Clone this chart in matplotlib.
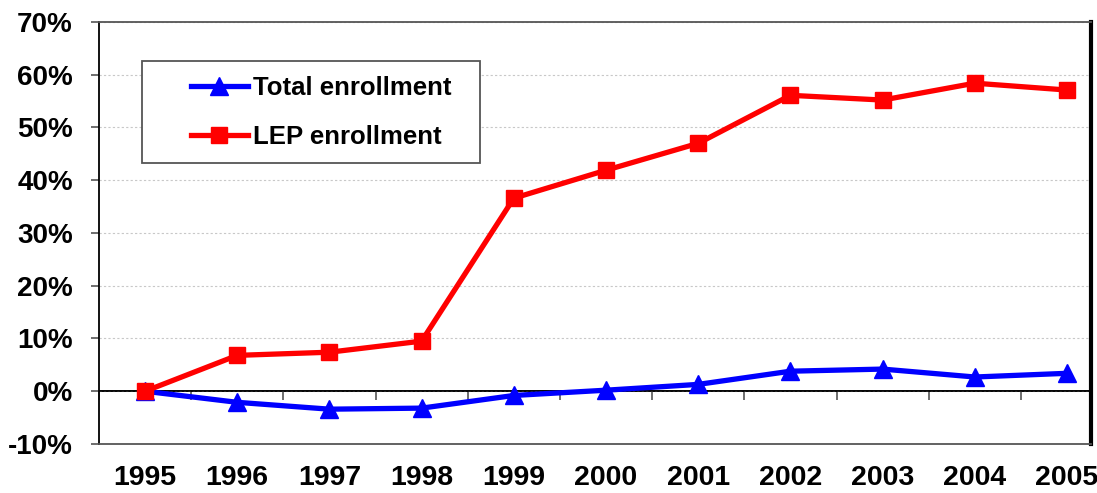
import numpy as np
import matplotlib.pyplot as plt
from matplotlib.ticker import FuncFormatter
from matplotlib.patches import Rectangle

# Données :
annees = ["1995", "1996", "1997", "1998", "1999", "2000",
          "2001", "2002", "2003", "2004", "2005"]
total = [0.0, -2.1, -3.4, -3.2, -0.8, 0.2, 1.3, 3.8, 4.2, 2.7, 3.4]
lep = [0.0, 6.8, 7.4, 9.5, 36.6, 41.9, 47.0, 56.1, 55.2, 58.4, 57.1]

plt.rcParams['font.family'] = ['Liberation Sans', 'DejaVu Sans']
plt.rcParams['font.weight'] = 'bold'

fig = plt.figure(figsize=(10.97, 4.93), dpi=100)
ax = fig.add_axes([0.0902, 0.0994, 0.9043, 0.856])

x = np.arange(len(annees))
ax.plot(x, total, color='#0000ff', lw=3.8, marker='^', ms=13,
        label='Total enrollment', zorder=4)
ax.plot(x, lep, color='#ff0000', lw=3.8, marker='s', ms=12,
        label='LEP enrollment', zorder=5)

ax.set_ylim(-10, 70)
ax.set_yticks(np.arange(-10, 71, 10))
ax.yaxis.set_major_formatter(FuncFormatter(lambda v, p: f"{v:.0f}%"))
ax.set_xlim(-0.5, 10.26)
ax.set_xticks(x)
ax.set_xticklabels(annees)

ax.grid(axis='y', color='#c8c8c8', linestyle=(0, (2, 2)), lw=0.8)
ax.set_axisbelow(True)
ax.axhline(0, color='black', lw=1.2, zorder=3)

ax.tick_params(axis='y', length=5.8, width=1.2, color='#555555', pad=13, labelsize=20)
ax.tick_params(axis='x', length=0, pad=15, labelsize=20.5)

ax.spines['left'].set_color('black')
ax.spines['left'].set_linewidth(1.3)
ax.spines['top'].set_color('#555555')
ax.spines['top'].set_linewidth(1.3)
ax.spines['bottom'].set_color('#555555')
ax.spines['bottom'].set_linewidth(1.3)
ax.spines['right'].set_color('black')
ax.spines['right'].set_linewidth(3)

# ligne du zéro avec graduations entre les années
zero = ax.secondary_xaxis(10 / 80)
zero.set_xticks(np.arange(-0.5, 10.5, 1))
zero.set_xticklabels([])
zero.tick_params(axis='x', direction='out', length=6.5, width=1.2, color='#555555')
zero.spines['bottom'].set_color('black')
zero.spines['bottom'].set_linewidth(1.2)

# cadre de la légende
ax.add_patch(Rectangle((0.0433, 0.666), 0.3407, 0.242, transform=ax.transAxes,
                       facecolor='white', edgecolor='#555555', lw=1.3, zorder=6))
leg = ax.legend(loc='upper left', bbox_to_anchor=(0.093, 0.871), fontsize=18.5,
                frameon=False, handlelength=2.2, labelspacing=0.95,
                handletextpad=0.2, borderaxespad=0, borderpad=0)
leg.set_zorder(7)

plt.savefig('out.png', dpi=100)
